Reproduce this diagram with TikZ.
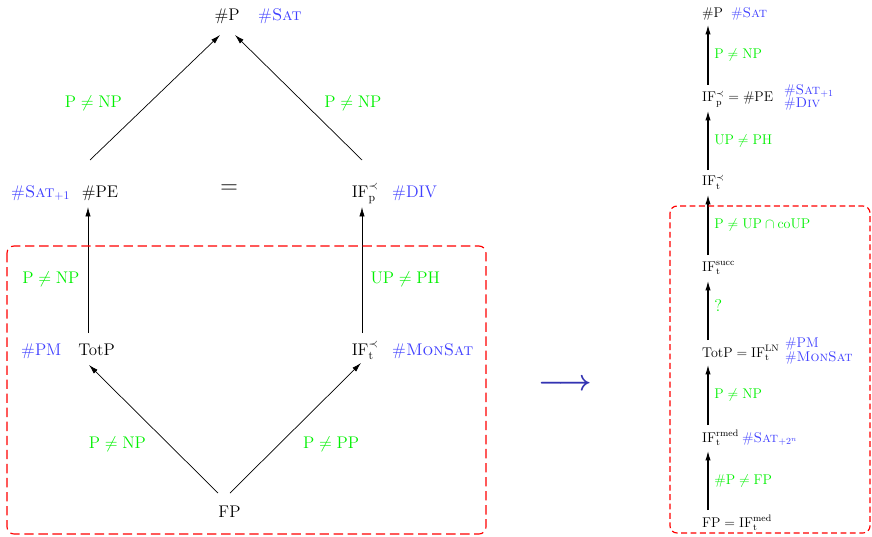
\documentclass[tikz,border=0pt]{standalone}
\usetikzlibrary{arrows.meta}
\definecolor{tagblue}{HTML}{4040FF}
\definecolor{condgreen}{HTML}{00F000}
\definecolor{structblue}{rgb}{0.2,0.2,0.7}
\tikzset{
  cls/.style={anchor=base,inner sep=0pt,font=\Large},
  tag/.style={anchor=base west,inner sep=0pt,text=tagblue,font=\Large},
  cond/.style={inner sep=0pt,text=condgreen,font=\Large},
  flow/.style={-{Latex[length=8pt,width=4.5pt]},line width=0.6pt},
  rcls/.style={cls,anchor=base west,font=\large},
  rtag/.style={tag,font=\large},
  rcond/.style={cond,font=\large},
  rflow/.style={flow,line width=0.9pt},
  region/.style={draw=red,line width=1pt,dash pattern=on 8pt off 4pt,rounded corners=6pt}
}

\begin{document}
\begin{tikzpicture}[x=0.03cm,y=-0.03cm]
  \useasboundingbox (0,0) rectangle (872,537);
  % classes, left
  \node[cls] (lsharpp) at (227,21) {\#P};
  \node[tag] (lsat) at (258,21) {\#\textsc{Sat}};
  \node[cls] (lpe) at (100,197) {\#PE};
  \node[tag] (lsatone) at (11,197) {\#\textsc{Sat}$_{+1}$};
  \node[cls,font=\huge,anchor=center] (leq) at (229,189) {$=$};
  \node[cls] (lifp) at (365,197) {$\mathrm{IF}_{\mathrm{p}}^{\prec}$};
  \node[tag] (ldiv) at (392,197) {\#DIV};
  \node[cls] (ltotp) at (96.5,355) {TotP};
  \node[tag] (lpm) at (21,355) {\#PM};
  \node[cls] (lift) at (365,355) {$\mathrm{IF}_{\mathrm{t}}^{\prec}$};
  \node[tag] (lmonsat) at (392,355) {\#\textsc{MonSat}};
  \node[cls] (lfp) at (229.5,517) {FP};
  \draw[flow] ([shift={(-10,-37)}]lpe.base) --
    node[cond,pos=0.456,left=23pt] {$\mathrm{P}\neq\mathrm{NP}$} ([shift={(-7,14)}]lsharpp.base);
  \draw[flow] ([shift={(-3,-37)}]lifp.base) --
    node[cond,pos=0.456,right=17pt] {$\mathrm{P}\neq\mathrm{NP}$} ([shift={(8,14)}]lsharpp.base);
  \draw[flow] ([shift={(-8.5,-22)}]ltotp.base) --
    node[cond,pos=0.43,left=7pt] {$\mathrm{P}\neq\mathrm{NP}$} ([shift={(-12,10)}]lpe.base);
  \draw[flow] ([shift={(-3,-22)}]lift.base) --
    node[cond,pos=0.43,right=7pt] {$\mathrm{UP}\neq\mathrm{PH}$} ([shift={(-3,10)}]lifp.base);
  \draw[flow] ([shift={(-11.5,-24)}]lfp.base) --
    node[cond,pos=0.383,left=19pt] {$\mathrm{P}\neq\mathrm{NP}$} ([shift={(-7.5,10)}]ltotp.base);
  \draw[flow] ([shift={(0.5,-24)}]lfp.base) --
    node[cond,pos=0.377,right=20pt] {$\mathrm{P}\neq\mathrm{PP}$} ([shift={(-4,8)}]lift.base);
  \draw[region] (7,246) rectangle (486,534);

  \node[font=\Huge\boldmath,text=structblue] (toright) at (565,385) {$\longrightarrow$};

  % classes, right
  \node[rcls] (rsharpp) at (702,18) {\#P};
  \node[rtag] (rsat) at (731,18) {\#\textsc{Sat}};
  \node[rcls] (rifp) at (702,102) {$\mathrm{IF}_{\mathrm{p}}^{\prec}=\#\mathrm{PE}$};
  \node[rtag,anchor=west,align=left] (rifptags) at (784,97)
    {\#\textsc{Sat}$_{+1}$\\[-3pt]\#\textsc{Div}};
  \node[rcls] (rift) at (702,186) {$\mathrm{IF}_{\mathrm{t}}^{\prec}$};
  \node[rcls] (rsucc) at (702,271) {$\mathrm{IF}_{\mathrm{t}}^{\mathrm{succ}}$};
  \node[rcls] (rtotp) at (702,357) {$\mathrm{TotP}=\mathrm{IF}_{\mathrm{t}}^{\mathrm{LN}}$};
  \node[rtag,anchor=west,align=left] (rtotptags) at (785,351)
    {\#PM\\[-2pt]\#\textsc{MonSat}};
  \node[rcls] (rrmed) at (702,442) {$\mathrm{IF}_{\mathrm{t}}^{\mathrm{rmed}}$};
  \node[rtag] (rsatpow) at (742,442) {\#\textsc{Sat}$_{+2^n}$};
  \node[rcls] (rfp) at (702,527) {$\mathrm{FP}=\mathrm{IF}_{\mathrm{t}}^{\mathrm{med}}$};
  \draw[rflow] ([shift={(6,-17)}]rifp.base west) --
    node[rcond,right=5pt] {$\mathrm{P}\neq\mathrm{NP}$} ([shift={(6,7)}]rsharpp.base west);
  \draw[rflow] ([shift={(6,-16)}]rift.base west) --
    node[rcond,right=5pt] {$\mathrm{UP}\neq\mathrm{PH}$} ([shift={(6,9)}]rifp.base west);
  \draw[rflow] ([shift={(6,-16)}]rsucc.base west) --
    node[rcond,right=5pt] {$\mathrm{P}\neq\mathrm{UP}\cap\mathrm{coUP}$} ([shift={(6,9)}]rift.base west);
  \draw[rflow] ([shift={(6,-17)}]rtotp.base west) --
    node[rcond,font=\Large,pos=0.58,right=5pt] {?} ([shift={(6,10)}]rsucc.base west);
  \draw[rflow] ([shift={(6,-17)}]rrmed.base west) --
    node[rcond,right=5pt] {$\mathrm{P}\neq\mathrm{NP}$} ([shift={(6,8)}]rtotp.base west);
  \draw[rflow] ([shift={(6,-17)}]rfp.base west) --
    node[rcond,right=5pt] {$\#\mathrm{P}\neq\mathrm{FP}$} ([shift={(6,9)}]rrmed.base west);
  \draw[region,dash pattern=on 5pt off 3pt] (670,206) rectangle (870,533);
\end{tikzpicture}
\end{document}
